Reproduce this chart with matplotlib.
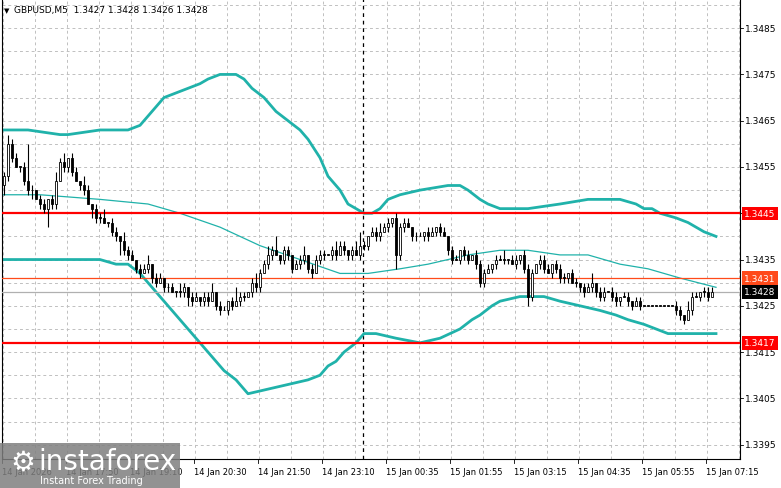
import matplotlib
matplotlib.use("Agg")
import matplotlib.pyplot as plt
from matplotlib.patches import Rectangle
import numpy as np

# ---- data (prices as pips above 1.3400) ----
close_pips = [
    53, 60, 57, 55, 55, 52, 50, 50, 48, 47,
    46, 48, 47, 52, 56, 55, 57, 54, 52, 51,
    50, 47, 46, 44, 44, 43, 43, 41, 40, 39,
    37, 36, 35, 33, 32, 33, 34, 31, 30, 31,
    29, 29, 28, 28, 28, 29, 27, 26, 27, 26,
    27, 26, 28, 25, 24, 24, 26, 25, 26, 27,
    27, 28, 30, 29, 32, 34, 36, 37, 36, 35,
    37, 36, 33, 34, 35, 36, 33, 32, 35, 36,
    36, 36, 37, 36, 38, 37, 36, 37, 36, 38,
    38, 40, 41, 40, 41, 42, 43, 44, 36, 42,
    43, 42, 40, 40, 40, 41, 40, 41, 42, 41,
    40, 37, 35, 35, 37, 36, 35, 36, 34, 30,
    32, 33, 34, 35, 35, 35, 35, 34, 35, 36,
    33, 27, 32, 34, 35, 33, 32, 34, 33, 31,
    31, 32, 30, 30, 29, 28, 29, 30, 28, 27,
    28, 28, 27, 26, 27, 27, 26, 25, 26, 25,
    25, 25, 25, 25, 25, 25, 25, 25, 24, 23,
    22, 24, 27, 27, 28, 28, 27, 28,
]
up_pips = [
    1, 2, 1, 1, 0, 1, 8, 1, 0, 1,
    1, 0, 1, 2, 1, 2, 0, 1, 1, 0,
    2, 1, 0, 1, 1, 2, 0, 1, 1, 0,
    2, 1, 1, 0, 1, 1, 2, 0, 1, 1,
    0, 1, 1, 0, 2, 1, 0, 1, 1, 0,
    1, 1, 2, 0, 1, 1, 0, 1, 3, 1,
    1, 0, 1, 2, 1, 1, 2, 1, 3, 0,
    1, 1, 0, 1, 1, 2, 0, 1, 1, 1,
    1, 0, 1, 2, 1, 1, 0, 1, 2, 3,
    1, 0, 1, 1, 2, 1, 1, 0, 1, 1,
    1, 1, 0, 1, 1, 0, 1, 1, 0, 1,
    1, 0, 1, 1, 0, 1, 1, 0, 1, 1,
    1, 1, 0, 1, 1, 2, 0, 1, 1, 0,
    1, 1, 1, 0, 1, 1, 1, 0, 1, 1,
    1, 0, 1, 1, 0, 1, 1, 2, 0, 1,
    1, 0, 1, 1, 0, 1, 1, 0, 1, 1,
    0, 0, 0, 0, 0, 0, 0, 0, 1, 1,
    0, 2, 1, 1, 0, 1, 1, 1,
]
dn_pips = [
    2, 1, 1, 0, 1, 1, 1, 2, 0, 1,
    1, 4, 1, 1, 0, 1, 1, 1, 0, 1,
    1, 0, 2, 1, 1, 0, 1, 1, 1, 3,
    1, 1, 0, 1, 1, 0, 1, 1, 1, 0,
    1, 1, 0, 1, 1, 1, 2, 1, 0, 1,
    1, 1, 0, 1, 1, 0, 1, 1, 0, 1,
    1, 0, 1, 1, 1, 0, 1, 1, 0, 1,
    1, 1, 1, 0, 1, 1, 1, 1, 0, 1,
    1, 0, 1, 1, 0, 1, 1, 1, 0, 1,
    1, 1, 0, 1, 1, 0, 1, 1, 3, 1,
    1, 0, 1, 1, 0, 1, 1, 0, 1, 1,
    0, 1, 1, 0, 1, 1, 1, 0, 1, 1,
    1, 0, 1, 1, 0, 1, 1, 0, 1, 1,
    1, 2, 1, 0, 1, 1, 0, 1, 1, 1,
    1, 1, 0, 1, 1, 1, 0, 1, 1, 1,
    1, 0, 1, 1, 1, 0, 1, 1, 0, 1,
    0, 0, 0, 0, 0, 0, 0, 0, 1, 1,
    1, 0, 1, 0, 1, 1, 1, 0,
]

# Bollinger bands (bar index, price)
upper_idx = [-1, 6, 14, 16, 24, 31, 34, 36, 38, 40, 43, 46, 49, 51, 54, 56, 58, 60, 62, 65,
             68, 71, 74, 76, 79, 81, 84, 86, 88, 90, 92, 94, 96, 99, 104, 111, 114, 116, 119,
             121, 124, 126, 131, 139, 146, 154, 158, 160, 162, 164, 168, 171, 175, 178]
upper_val = [1.3463, 1.3463, 1.3462, 1.3462, 1.3463, 1.3463, 1.3464, 1.3466, 1.3468, 1.3470,
             1.3471, 1.3472, 1.3473, 1.3474, 1.3475, 1.3475, 1.3475, 1.3474, 1.3472, 1.3470,
             1.3467, 1.3465, 1.3463, 1.3461, 1.3457, 1.3453, 1.3450, 1.3447, 1.3446, 1.3445,
             1.3445, 1.3446, 1.3448, 1.3449, 1.3450, 1.3451, 1.3451, 1.3450, 1.3448, 1.3447,
             1.3446, 1.3446, 1.3446, 1.3447, 1.3448, 1.3448, 1.3447, 1.3446, 1.3446, 1.3445,
             1.3444, 1.3443, 1.3441, 1.3440]
middle_idx = [-1, 9, 24, 36, 44, 54, 64, 74, 84, 91, 99, 106, 116, 124, 131, 139, 146, 154,
              161, 169, 178]
middle_val = [1.3449, 1.3449, 1.3448, 1.3447, 1.3445, 1.3442, 1.3438, 1.3435, 1.3432, 1.3432,
              1.3433, 1.3434, 1.3436, 1.3437, 1.3437, 1.3436, 1.3436, 1.3434, 1.3433, 1.3431,
              1.3429]
lower_idx = [-1, 9, 24, 28, 31, 34, 36, 39, 42, 44, 46, 49, 52, 55, 58, 61, 66, 71, 76, 79,
             81, 83, 85, 88, 90, 93, 98, 104, 109, 114, 117, 119, 122, 124, 129, 135, 139,
             144, 149, 153, 156, 160, 166, 172, 178]
lower_val = [1.3435, 1.3435, 1.3435, 1.3434, 1.3434, 1.3432, 1.3430, 1.3427, 1.3424, 1.3422,
             1.3420, 1.3417, 1.3414, 1.3411, 1.3409, 1.3406, 1.3407, 1.3408, 1.3409, 1.3410,
             1.3412, 1.3413, 1.3415, 1.3417, 1.3419, 1.3419, 1.3418, 1.3417, 1.3418, 1.3420,
             1.3422, 1.3423, 1.3425, 1.3426, 1.3427, 1.3427, 1.3426, 1.3425, 1.3424, 1.3423,
             1.3422, 1.3421, 1.3419, 1.3419, 1.3419]

level_values = [1.3445, 1.3417]
ask_line = 1.3431
bid_line = 1.3428
price_ticks = [1.3485, 1.3475, 1.3465, 1.3455, 1.3445, 1.3435, 1.3425, 1.3415, 1.3405, 1.3395]
time_labels = ["14 Jan 2026", "14 Jan 17:50", "14 Jan 19:10", "14 Jan 20:30", "14 Jan 21:50",
               "14 Jan 23:10", "15 Jan 00:35", "15 Jan 01:55", "15 Jan 03:15", "15 Jan 04:35",
               "15 Jan 05:55", "15 Jan 07:15"]
separator_index = 89.8

TEAL = "#20b2aa"

close = 1.34 + np.array(close_pips) / 10000.0
opens = np.concatenate([[close[0] - 0.0002], close[:-1]])
highs = np.maximum(opens, close) + np.array(up_pips) / 10000.0
lows = np.minimum(opens, close) - np.array(dn_pips) / 10000.0

fig = plt.figure(figsize=(7.81, 4.89), dpi=100)
ax = fig.add_axes([2 / 781, 29 / 489, 738 / 781, 460 / 489])
ax.set_xlim(-0.5, 184)
ax.set_ylim(1.33919, 1.34913)

# grid
for gx in np.arange(-0.25, 184, 8):
    ax.axvline(gx, color="#c0c0c0", lw=0.7, ls=(0, (3, 3)), zorder=0)
for gy in np.arange(1.3395, 1.3491, 0.0005):
    ax.axhline(gy, color="#c0c0c0", lw=0.7, ls=(0, (3, 3)), zorder=0)

ax.axvline(separator_index, color="black", lw=0.9, ls=(0, (3, 3)), zorder=1)

# bands
ax.plot(upper_idx, upper_val, color=TEAL, lw=2.0, zorder=2)
ax.plot(lower_idx, lower_val, color=TEAL, lw=2.0, zorder=2)
ax.plot(middle_idx, middle_val, color=TEAL, lw=0.9, zorder=2)

# levels
for lv in level_values:
    ax.axhline(lv, color="#ff0000", lw=1.6, zorder=3)
ax.axhline(ask_line, color="#ff4a1a", lw=0.9, zorder=3)
ax.axhline(bid_line, color="#b0b0b0", lw=0.9, zorder=3)

# candles
for i in range(len(close)):
    o, c = opens[i], close[i]
    ax.vlines(i, lows[i], highs[i], color="black", lw=0.8, zorder=4)
    bottom = min(o, c)
    h = max(abs(c - o), 0.000012)
    face = "white" if c > o else "black"
    ax.add_patch(Rectangle((i - 0.35, bottom), 0.7, h, facecolor=face,
                           edgecolor="black", lw=0.6, zorder=5))

ax.set_xticks([])
ax.set_yticks([])
ax.spines["top"].set_visible(False)
for s in ["left", "right", "bottom"]:
    ax.spines[s].set_linewidth(0.8)

# right price axis labels
for p in price_ticks:
    ax.text(185.3, p, f"{p:.4f}", fontsize=6.5, va="center", ha="left", clip_on=False)
    ax.plot([184, 184.8], [p, p], color="black", lw=0.6, clip_on=False)

def tag(price, text, fc):
    ax.text(185.0, price, text, fontsize=6.5, va="center", ha="left", color="white",
            clip_on=False, zorder=10,
            bbox=dict(boxstyle="square,pad=0.25", fc=fc, ec="none"))

tag(level_values[0], f"{level_values[0]:.4f}", "#ff0000")
tag(level_values[1], f"{level_values[1]:.4f}", "#ff0000")
tag(ask_line, f"{ask_line:.4f}", "#ff4a1a")
tag(bid_line, f"{bid_line:.4f}", "black")

# time axis labels
for k, lab in enumerate(time_labels):
    xi = k * 16 - 0.5
    ax.text(xi, 1.33919 - 0.00018, lab, fontsize=6.0, va="top", ha="left", clip_on=False)
    ax.plot([xi, xi], [1.33919, 1.33919 - 0.00008], color="black", lw=0.6, clip_on=False)

# title
fig.text(14 / 781, 1 - 11 / 489, "GBPUSD,M5  1.3427 1.3428 1.3426 1.3428", fontsize=6.5,
         va="center", ha="left")
fig.text(4 / 781, 1 - 11 / 489, "\u25bc", fontsize=5, va="center", ha="left")

# watermark
fig.patches.append(Rectangle((0, 0), 180 / 781, 45 / 489, transform=fig.transFigure,
                             facecolor="#7f7f7f", alpha=0.85, edgecolor="none", zorder=20))
fig.text(10 / 781, 26 / 489, "\u2699", fontsize=20, color="white", va="center", zorder=21)
fig.text(38 / 781, 27 / 489, "instaforex", fontsize=20, color="white", va="center", zorder=21)
fig.text(40 / 781, 8 / 489, "Instant Forex Trading", fontsize=7, color="white",
         va="center", zorder=21)

fig.savefig("out.png", dpi=100)
